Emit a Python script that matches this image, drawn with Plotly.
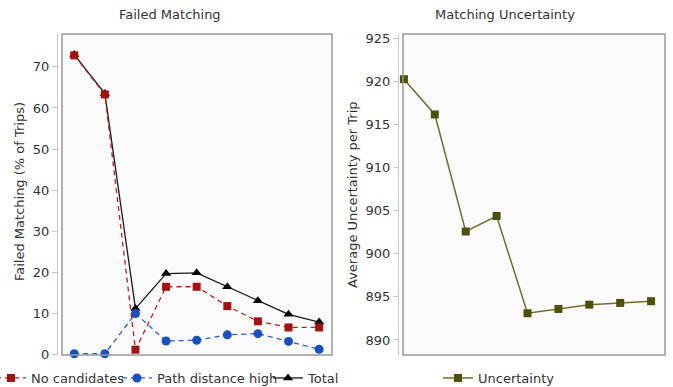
import plotly.graph_objects as go

# Failed matching shares (% of trips) per configuration step
steps = list(range(9))
no_candidates = [72.8, 63.3, 1.2, 16.5, 16.5, 11.8, 8.1, 6.6, 6.6]
path_distance_high = [0.2, 0.2, 10.0, 3.3, 3.5, 4.8, 5.1, 3.2, 1.3]
total_failed = [73.0, 63.5, 11.2, 19.7, 19.9, 16.5, 13.1, 9.8, 7.9]

# Average matching uncertainty per trip
uncertainty = [920.3, 916.2, 902.6, 904.4, 893.1, 893.6, 894.1, 894.3, 894.5]

W, H = 673, 387
FONT = "DejaVu Sans"
TEXT = "#333333"
FRAME = "#999999"
AXIS = "#c8c8c8"

fig = go.Figure()

fig.add_trace(go.Scatter(
    x=steps, y=total_failed, name="Total", mode="lines+markers",
    line=dict(color="#1a1a1a", width=1.3),
    marker=dict(symbol="triangle-up", size=9, color="#000000"),
    xaxis="x", yaxis="y", legend="legend3", cliponaxis=False))
fig.add_trace(go.Scatter(
    x=steps, y=path_distance_high, name="Path distance high", mode="lines+markers",
    line=dict(color="#2a5fc8", width=1.3, dash="5px,4px"),
    marker=dict(symbol="circle", size=9, color="#1a4fbf"),
    xaxis="x", yaxis="y", legend="legend2", cliponaxis=False))
fig.add_trace(go.Scatter(
    x=steps, y=no_candidates, name="No candidates", mode="lines+markers",
    line=dict(color="#b22222", width=1.3, dash="5px,4px"),
    marker=dict(symbol="square", size=8, color="#a31212"),
    xaxis="x", yaxis="y", legend="legend", cliponaxis=False))

fig.add_trace(go.Scatter(
    x=steps, y=uncertainty, name="Uncertainty", mode="lines+markers",
    line=dict(color="#6e6e2e", width=1.5),
    marker=dict(symbol="square", size=8, color="#4f4f0c"),
    xaxis="x2", yaxis="y2", legend="legend4", cliponaxis=False))

for tr in fig.data:
    tr.showlegend = True

left_dom = [62 / W, 332 / W]
right_dom = [403 / W, 665 / W]
y_dom = [1 - 355 / H, 1 - 34 / H]

tick_font = dict(family=FONT, size=13, color=TEXT)
common_x = dict(showticklabels=False, ticks="", showgrid=False, zeroline=False,
                showline=False)
common_y = dict(showgrid=False, zeroline=False, showline=True, linecolor=AXIS,
                linewidth=1, ticks="outside", ticklen=5, tickcolor=AXIS,
                tickfont=tick_font, anchor="free", automargin=False)


def legend_at(x_px, indent=0):
    return dict(orientation="h", x=x_px / W, xanchor="left", y=1 - 378 / H,
                yanchor="middle", font=dict(family=FONT, size=13, color=TEXT),
                bgcolor="rgba(0,0,0,0)", itemwidth=30, borderwidth=0,
                indentation=indent)


def label(text, x_px, y_px, angle=0):
    return dict(text=text, x=x_px / W, y=1 - y_px / H, xref="paper", yref="paper",
                xanchor="center", yanchor="middle", textangle=angle, showarrow=False,
                font=dict(family=FONT, size=13, color=TEXT))


fig.update_layout(
    width=W, height=H,
    showlegend=True,
    margin=dict(l=0, r=0, t=0, b=0, autoexpand=False),
    paper_bgcolor="white",
    plot_bgcolor="#fafafa",
    font=dict(family=FONT, color=TEXT),
    xaxis=dict(domain=left_dom, range=[-0.4, 8.42], anchor="y", **common_x),
    yaxis=dict(domain=y_dom, range=[-0.1, 78], dtick=10, position=57 / W, **common_y),
    xaxis2=dict(domain=right_dom, range=[-0.03, 8.45], anchor="y2", **common_x),
    yaxis2=dict(domain=y_dom, range=[888.25, 925.55], dtick=5, position=398 / W, **common_y),
    legend=legend_at(0, indent=-9),
    legend2=legend_at(117),
    legend3=legend_at(268),
    legend4=legend_at(438),
    shapes=[
        dict(type="rect", xref="x domain", yref="y domain", x0=0, x1=1, y0=0, y1=1,
             line=dict(color=FRAME, width=1.5), fillcolor="rgba(0,0,0,0)", layer="above"),
        dict(type="rect", xref="x2 domain", yref="y2 domain", x0=0, x1=1, y0=0, y1=1,
             line=dict(color=FRAME, width=1.5), fillcolor="rgba(0,0,0,0)", layer="above"),
    ],
    annotations=[
        label("Failed Matching", 170, 15),
        label("Matching Uncertainty", 505, 15),
        label("Failed Matching (% of Trips)", 19, 192, -90),
        label("Average Uncertainty per Trip", 352, 195, -90),
    ],
)

fig.write_html("out.html")
